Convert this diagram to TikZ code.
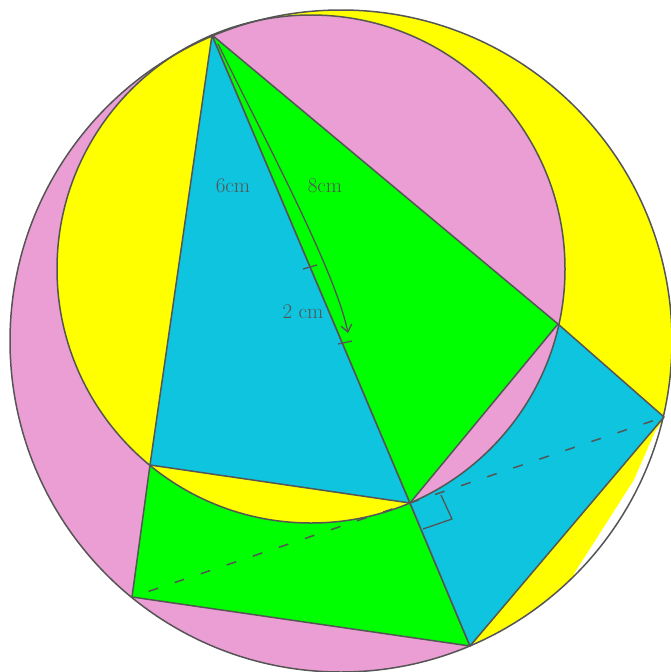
\documentclass[tikz,border=0pt]{standalone}
\usetikzlibrary{arrows.meta}
\definecolor{pinkc}{RGB}{234,158,211}
\definecolor{cyanc}{RGB}{14,196,222}
\definecolor{greenc}{RGB}{0,255,0}
\definecolor{yellowc}{RGB}{255,255,0}
\definecolor{ink}{RGB}{85,85,85}
\begin{document}
\begin{tikzpicture}[x=1pt,y=-1pt,
  edge/.style={draw=ink,line width=1.5pt,line join=round},
  lbl/.style={text=ink,font=\fontsize{21}{21}\selectfont,inner sep=0pt}]
\useasboundingbox (0,0) rectangle (670,672);
\coordinate (O1) at (341,341);
\coordinate (O2) at (311,269);
\coordinate (A) at (212,35);
\coordinate (B) at (150,465);
\coordinate (C) at (410,503);
\coordinate (D) at (558,324);
\coordinate (E) at (470,646);
\coordinate (F) at (132,597);
\coordinate (G) at (664,417);
% outer disc
\fill[pinkc] (O1) circle[radius=331pt];
\begin{scope}
  \clip (O1) circle[radius=331pt];
  \fill[yellowc] (187,-25) -- (720,-25) -- (720,720) -- (496,707) -- cycle;
  \fill[white] (574,574) -- (634,480) -- (655,432) -- (666,416) -- (720,416) -- (720,600) -- cycle;
\end{scope}
% quadrilaterals
\filldraw[fill=greenc,edge] (B) -- (C) -- (E) -- (F) -- cycle;
\filldraw[fill=cyanc,edge] (C) -- (D) -- (G) -- (E) -- cycle;
% inner disc
\fill[pinkc] (O2) circle[radius=254pt];
\begin{scope}
  \clip (O2) circle[radius=254pt];
  \fill[yellowc] (A) -- (B) -- (C) -- (400,580) -- (-10,580) -- (-10,-10) -- (200,-10) -- cycle;
\end{scope}
% triangles
\filldraw[fill=cyanc,edge] (A) -- (B) -- (C) -- cycle;
\filldraw[fill=greenc,edge] (A) -- (C) -- (D) -- cycle;
% circle outlines
\draw[edge] (O2) circle[radius=254pt];
\draw[edge] (O1) circle[radius=331pt];
% dashed line and right angle
\draw[edge,dash pattern=on 10pt off 17.5pt,dash phase=10pt] (F) -- (G);
\coordinate (R1) at (441,495);
\coordinate (R2) at (452,519);
\coordinate (R3) at (423,529);
\draw[edge,line width=1.3pt] (R1) -- (R2) -- (R3);
% ticks on AC
\coordinate (T1a) at (303,269);
\coordinate (T1b) at (317,265);
\coordinate (T2a) at (338,344);
\coordinate (T2b) at (352,341);
\draw[edge,line width=1.3pt] (T1a) -- (T1b);
\draw[edge,line width=1.3pt] (T2a) -- (T2b);
% curved arrow
\coordinate (S) at (218,44);
\coordinate (S2) at (348,333);
\draw[edge,line width=1.3pt,-{Straight Barb[length=7pt,width=11pt]}] (S) .. controls (265,140) and (335,270) .. (S2);
% labels
\node[lbl] (l6) at (233,186) {6cm};
\node[lbl] (l8) at (325,186) {8cm};
\node[lbl] (l2) at (303,312) {2 cm};
\end{tikzpicture}
\end{document}
